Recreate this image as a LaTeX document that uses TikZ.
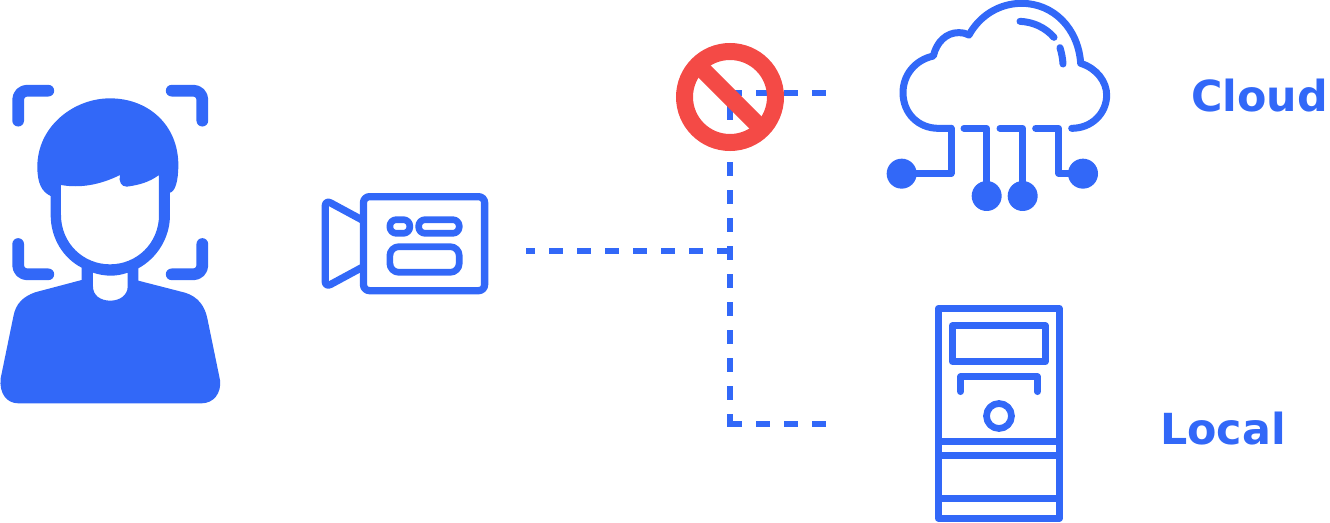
\documentclass[tikz,border=0pt]{standalone}
\usepackage{fontspec}
\setmainfont{DejaVu Sans}
\definecolor{iconblue}{HTML}{3268F8}
\definecolor{stopred}{HTML}{F44A46}
\tikzset{
  linkdash/.style={draw=iconblue,line width=6pt,dash pattern=on 14pt off 14pt},
  label/.style={text=iconblue,font=\fontsize{42.8}{42.8}\selectfont\bfseries,inner sep=0pt,anchor=base west},
  thin icon/.style={draw=iconblue,line join=round,line cap=round},
}
\begin{document}
\begin{tikzpicture}[x=1pt,y=-1pt]
\useasboundingbox (0,0) rectangle (1330,522);
% connectors
\coordinate (camOut) at (526.2,250.7);
\coordinate (junction) at (730.8,250.7);
\coordinate (vTop) at (730,106);
\coordinate (vBot) at (730,427.3);
\coordinate (cloudIn) at (825.7,92.7);
\coordinate (cloudCorner) at (727.7,92.7);
\coordinate (localIn) at (825.7,424.3);
\coordinate (localCorner) at (727,424.3);
\draw[linkdash] (junction) -- (camOut);
\draw[linkdash] (vTop) -- (vBot);
\draw[linkdash] (cloudIn) -- (cloudCorner);
\draw[linkdash] (localIn) -- (localCorner);
% stop sign
\draw[stopred,line width=17pt] (730,97) circle[radius=45.5pt];
\draw[stopred,line width=17pt] (698,65) -- (762,129);
% person
\begin{scope}[shift={(0,70)},x=0.33333pt,y=-0.33333pt]
\draw[thin icon,line width=11.7pt,rounded corners=9pt] (145,62) -- (54.5,62) -- (54.5,152);
\draw[thin icon,line width=11.7pt,rounded corners=9pt] (515,62) -- (607,62) -- (607,152);
\draw[thin icon,line width=11.7pt,rounded corners=9pt] (54.5,522) -- (54.5,613) -- (145,613);
\draw[thin icon,line width=11.7pt,rounded corners=9pt] (607,522) -- (607,613) -- (515,613);
\fill[iconblue,even odd rule]
  (152,378) .. controls (125,365) and (112,340) .. (112,290)
  .. controls (112,170) and (220,85) .. (330,85)
  .. controls (445,85) and (535,165) .. (535,285)
  .. controls (535,335) and (525,365) .. (510,368)
  -- (510,435) .. controls (510,505) and (470,565) .. (415,595)
  -- (415,632) -- (555,668)
  .. controls (595,680) and (615,710) .. (622,745)
  -- (660,930) .. controls (665,970) and (640,1000) .. (605,1000)
  -- (55,1000) .. controls (20,1000) and (-3,970) .. (2,925)
  -- (40,740) .. controls (47,700) and (70,680) .. (105,667)
  -- (245,630) -- (245,593)
  .. controls (190,565) and (152,505) .. (152,435) -- cycle
  (183,345) .. controls (240,355) and (300,345) .. (360,315)
  .. controls (355,335) and (365,350) .. (380,350)
  .. controls (420,345) and (450,335) .. (477,315)
  -- (477,435) .. controls (477,520) and (410,583) .. (330,583)
  .. controls (250,583) and (183,520) .. (183,435) -- cycle
  (279,608) .. controls (315,620) and (350,620) .. (383,608)
  -- (383,650) .. controls (383,675) and (360,692) .. (331,692)
  .. controls (300,692) and (279,675) .. (279,650) -- cycle;
\end{scope}
% camera
\begin{scope}[shift={(310,30)},x=0.33841pt,y=-0.33333pt]
\draw[thin icon,line width=7.3pt,rounded corners=6pt] (158,500) rectangle (516,782);
\draw[thin icon,line width=7.3pt,rounded corners=6pt]
  (158,572) -- (45,510) -- (45,772) -- (158,710);
\draw[thin icon,line width=6.7pt,rounded corners=6.5pt] (236,569) rectangle (295,610);
\draw[thin icon,line width=6.7pt,rounded corners=6.5pt] (321,569) rectangle (441,610);
\draw[thin icon,line width=6.7pt,rounded corners=9pt] (236,650) rectangle (441,727);
\end{scope}
% cloud
\begin{scope}[shift={(870,0)},x=0.33333pt,y=-0.33333pt]
\draw[thin icon,line width=7pt]
  (243,385) -- (205,385) .. controls (145,385) and (99,340) .. (99,278)
  .. controls (99,225) and (135,180) .. (190,168)
  .. controls (200,125) and (230,98) .. (265,98)
  .. controls (278,98) and (288,100) .. (297,105)
  .. controls (330,45) and (390,10) .. (455,10)
  .. controls (550,10) and (625,85) .. (632,190)
  .. controls (680,205) and (710,245) .. (710,285)
  .. controls (710,340) and (665,385) .. (605,385);
\draw[thin icon,line width=7pt] (450,64) .. controls (490,66) and (525,82) .. (552,112);
\draw[thin icon,line width=7pt] (570,143) .. controls (575,160) and (578,175) .. (579,192);
\draw[thin icon,line width=7pt] (243,385) -- (243,520) -- (130,520);
\draw[thin icon,line width=7pt] (282,385) -- (350,385) -- (350,560);
\draw[thin icon,line width=7pt] (390,385) -- (458,385) -- (458,560);
\draw[thin icon,line width=7pt] (497,385) -- (566,385) -- (566,520) -- (610,520);
\fill[iconblue] (95,521) circle[radius=15pt];
\fill[iconblue] (350,588) circle[radius=15pt];
\fill[iconblue] (458,588) circle[radius=15pt];
\fill[iconblue] (639,521) circle[radius=15pt];
\end{scope}
% server
\begin{scope}[shift={(900,290)},x=0.33333pt,y=-0.33333pt]
\draw[thin icon,line width=6.7pt] (115,55) rectangle (478,685);
\draw[thin icon,line width=6.7pt,line cap=butt] (105,455) -- (488,455);
\draw[thin icon,line width=6.7pt,line cap=butt] (105,497) -- (488,497);
\draw[thin icon,line width=6.7pt,line cap=butt] (105,625) -- (488,625);
\draw[thin icon,line width=6.7pt] (157,107) rectangle (436,215);
\draw[thin icon,line width=6.7pt] (182,305) -- (182,260) -- (412,260) -- (412,305);
\draw[thin icon,line width=6.7pt] (297,378) circle[radius=12.5pt];
\end{scope}
% labels
\node[label] (cloudLabel) at (1191,111.5) {Cloud};
\node[label] (localLabel) at (1160,444) {Local};
\end{tikzpicture}
\end{document}
